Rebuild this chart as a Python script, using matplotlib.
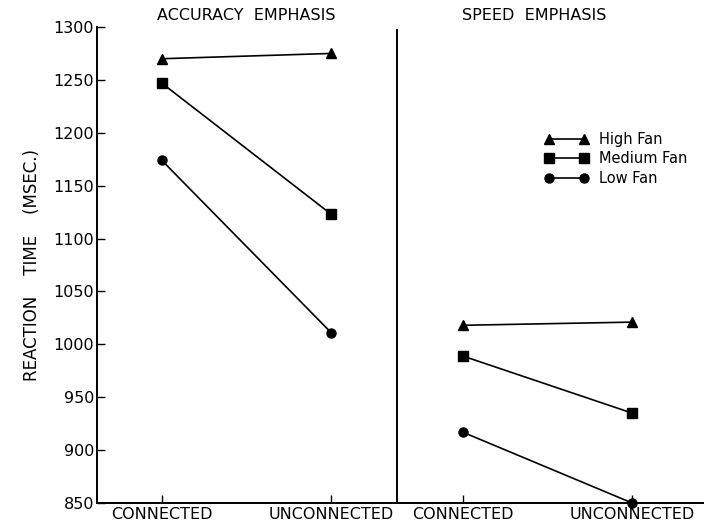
import matplotlib.pyplot as plt

# ---------------- DATA ----------------
conditions = ['CONNECTED', 'UNCONNECTED']
fan_labels = ['High Fan', 'Medium Fan', 'Low Fan']

accuracy_high = [1270, 1275]
accuracy_medium = [1247, 1123]
accuracy_low = [1174, 1011]

speed_high = [1018, 1021]
speed_medium = [989, 935]
speed_low = [917, 850]

yticks = [850, 900, 950, 1000, 1050, 1100, 1150, 1200, 1250, 1300]

# x positions of the two panels on one shared axis
left_x = [0, 1]
right_x = [1.776, 2.776]
divider_x = 1.388

markers = ['^', 's', 'o']
sizes = [7.5, 7, 6.5]

fig = plt.figure(figsize=(7.04, 5.28), dpi=100)
ax = fig.add_axes([97 / 704, 1 - 503 / 528, 1 - 97 / 704, (503 - 27) / 528])

accuracy = [accuracy_high, accuracy_medium, accuracy_low]
speed = [speed_high, speed_medium, speed_low]

for vals, m, ms, lab in zip(accuracy, markers, sizes, fan_labels):
    ax.plot(left_x, vals, color='black', lw=1.2, marker=m, markersize=ms,
            clip_on=False, label=lab)
for vals, m, ms in zip(speed, markers, sizes):
    ax.plot(right_x, vals, color='black', lw=1.2, marker=m, markersize=ms,
            clip_on=False)

# divider between the two emphasis conditions
ax.plot([divider_x, divider_x], [850, 1297], color='black', lw=1.4, clip_on=False)

ax.set_xlim(-0.382, 3.2)
ax.set_ylim(850, 1300)

ax.set_yticks(yticks)
ax.set_yticklabels([str(v) for v in yticks], fontsize=11.5)
ax.set_xticks(left_x + right_x)
ax.set_xticklabels(conditions + conditions, fontsize=11.5)
ax.tick_params(axis='y', direction='in', length=6, width=1, pad=2)
ax.tick_params(axis='x', direction='in', length=6, width=1, pad=3)

for side in ['top', 'right']:
    ax.spines[side].set_visible(False)
ax.spines['left'].set_linewidth(1.4)
ax.spines['bottom'].set_linewidth(1.4)

ax.set_ylabel('REACTION    TIME    (MSEC.)', fontsize=12, labelpad=9)

# panel headings
ax.text(0.5, 1.008, 'ACCURACY  EMPHASIS', transform=ax.get_xaxis_transform(),
        ha='center', va='bottom', fontsize=11.5, clip_on=False)
ax.text(2.20, 1.008, 'SPEED  EMPHASIS', transform=ax.get_xaxis_transform(),
        ha='center', va='bottom', fontsize=11.5, clip_on=False)

leg = ax.legend(loc='upper left', bbox_to_anchor=(545 / 704, 1 - 132 / 528),
                bbox_transform=fig.transFigure, frameon=False, numpoints=2,
                handlelength=3.0, handletextpad=0.7, labelspacing=0.3,
                borderpad=0, borderaxespad=0, fontsize=10.5)

fig.savefig('out.png', dpi=100)
